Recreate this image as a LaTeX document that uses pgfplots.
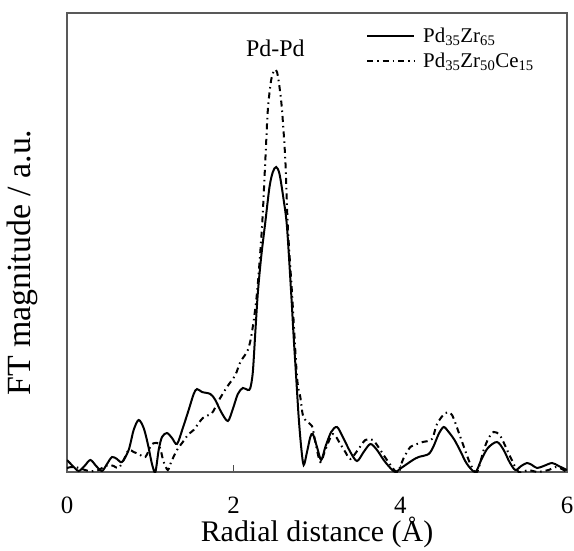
\documentclass[border=0pt]{standalone}
\usepackage{fontspec}
\setmainfont{Liberation Serif}
\usepackage{pgfplots}
\pgfplotsset{compat=1.18}

\begin{document}
\begin{tikzpicture}
\begin{axis}[
    name=ax,
    scale only axis,
    width=500bp, height=459bp,
    xmin=0, xmax=6, ymin=0, ymax=459,
    xtick={0,2,4,6}, ytick=\empty,
    xtick pos=left,
    tick align=inside,
    major tick length=7bp,
    axis line style={draw=black!65, line width=1.2bp},
    every tick/.style={black!70, line width=1.2bp},
    /pgf/number format/assume math mode=true,
    xticklabel style={font=\fontsize{25}{30}\selectfont, inner sep=0pt, anchor=north, yshift=-25bp},
    xlabel={Radial distance (Å)},
    xlabel style={font=\fontsize{30}{36}\selectfont, inner sep=0pt, at={(rel axis cs:0.5,0)}, anchor=north, yshift=-45bp},
    ylabel={FT magnitude / a.u.},
    ylabel style={font=\fontsize{34}{40}\selectfont, inner sep=0pt, at={([xshift=-29bp]rel axis cs:0,0.456)}, anchor=south},
    legend style={at={(rel axis cs:0.598,0.973)}, anchor=north west, draw=none, fill=none,
        font=\fontsize{21}{25}\selectfont, inner sep=0pt, row sep=5bp, column sep=6bp},
    legend cell align=left,
    legend image code/.code={\draw[#1] (0bp,0bp) -- (47bp,0bp);},
]
\addplot[black, line width=2bp, smooth] coordinates {
(0,12)(0.07,6)(0.14,1)(0.21,6)(0.28,12)(0.35,6)(0.42,1)(0.48,8)(0.54,15)(0.60,13)
(0.66,10)(0.74,22)(0.80,42)(0.86,52)(0.92,44)(0.97,28)(1.02,8)(1.06,0)(1.10,22)(1.14,35)
(1.20,39)(1.26,34)(1.32,28)(1.39,44)(1.46,62)(1.52,78)(1.56,83)(1.62,80)(1.72,78)(1.78,72)
(1.85,60)(1.93,51)(1.99,63)(2.05,78)(2.11,84)(2.17,82)(2.20,84)(2.23,100)(2.26,140)(2.29,179)
(2.33,215)(2.38,250)(2.43,285)(2.47,300)(2.51,305)(2.55,298)(2.60,272)(2.64,245)(2.69,179)(2.72,135)
(2.75,95)(2.78,55)(2.81,25)(2.84,7)(2.88,20)(2.92,35)(2.95,38)(3.00,25)(3.05,12)(3.10,25)
(3.17,40)(3.24,45)(3.31,35)(3.40,20)(3.48,11)(3.56,20)(3.64,28)(3.72,22)(3.80,12)(3.88,4)
(3.94,0)(4.01,4)(4.08,8)(4.15,12)(4.22,15)(4.34,18)(4.40,26)(4.46,38)(4.52,45)(4.58,40)
(4.65,32)(4.72,21)(4.80,8)(4.90,0)(4.97,12)(5.05,24)(5.16,30)(5.24,22)(5.31,10)(5.38,2)
(5.45,6)(5.52,9)(5.58,7)(5.64,4)(5.72,6)(5.82,9)(5.90,6)(6.0,2)};
\addlegendentry{Pd\textsubscript{35}Zr\textsubscript{65}}
\addplot[black, line width=2bp, smooth, dash pattern=on 6bp off 4bp on 1.5bp off 4bp] coordinates {
(0,4)(0.05,5)(0.1,5)(0.18,3)(0.26,1)(0.32,1)(0.38,2)(0.44,5)(0.5,7)(0.56,6)
(0.62,4)(0.68,12)(0.74,22)(0.80,20)(0.86,18)(0.94,15)(1.01,27)(1.06,29)(1.1,28)(1.13,20)
(1.16,10)(1.21,2)(1.25,10)(1.32,22)(1.39,30)(1.46,38)(1.52,42)(1.63,54)(1.74,59)(1.81,70)
(1.92,85)(2.02,97)(2.08,110)(2.17,122)(2.22,140)(2.28,179)(2.34,245)(2.38,312)(2.41,362)(2.45,392)
(2.49,402)(2.52,400)(2.55,385)(2.58,362)(2.62,312)(2.65,245)(2.70,179)(2.76,95)(2.80,75)(2.83,57)
(2.88,50)(2.94,46)(2.98,30)(3.04,10)(3.10,22)(3.19,38)(3.28,28)(3.34,20)(3.40,13)(3.49,22)
(3.58,32)(3.67,32)(3.76,22)(3.84,12)(3.96,0)(4.04,14)(4.12,25)(4.20,28)(4.27,30)(4.38,33)
(4.44,48)(4.54,59)(4.62,57)(4.72,35)(4.84,8)(4.92,0)(5.0,22)(5.06,34)(5.12,40)(5.20,36)
(5.32,15)(5.42,0)(5.54,2)(5.64,0)(5.78,2)(5.88,5)(6.0,0)};
\addlegendentry{Pd\textsubscript{35}Zr\textsubscript{50}Ce\textsubscript{15}}
\node[font=\fontsize{24}{28}\selectfont] at (axis cs:2.5,424) {Pd-Pd};
\end{axis}
\pgfresetboundingbox
\useasboundingbox (ax.south west) ++(-67bp,-79bp) rectangle ++(574bp,551bp);
\end{tikzpicture}
\end{document}
